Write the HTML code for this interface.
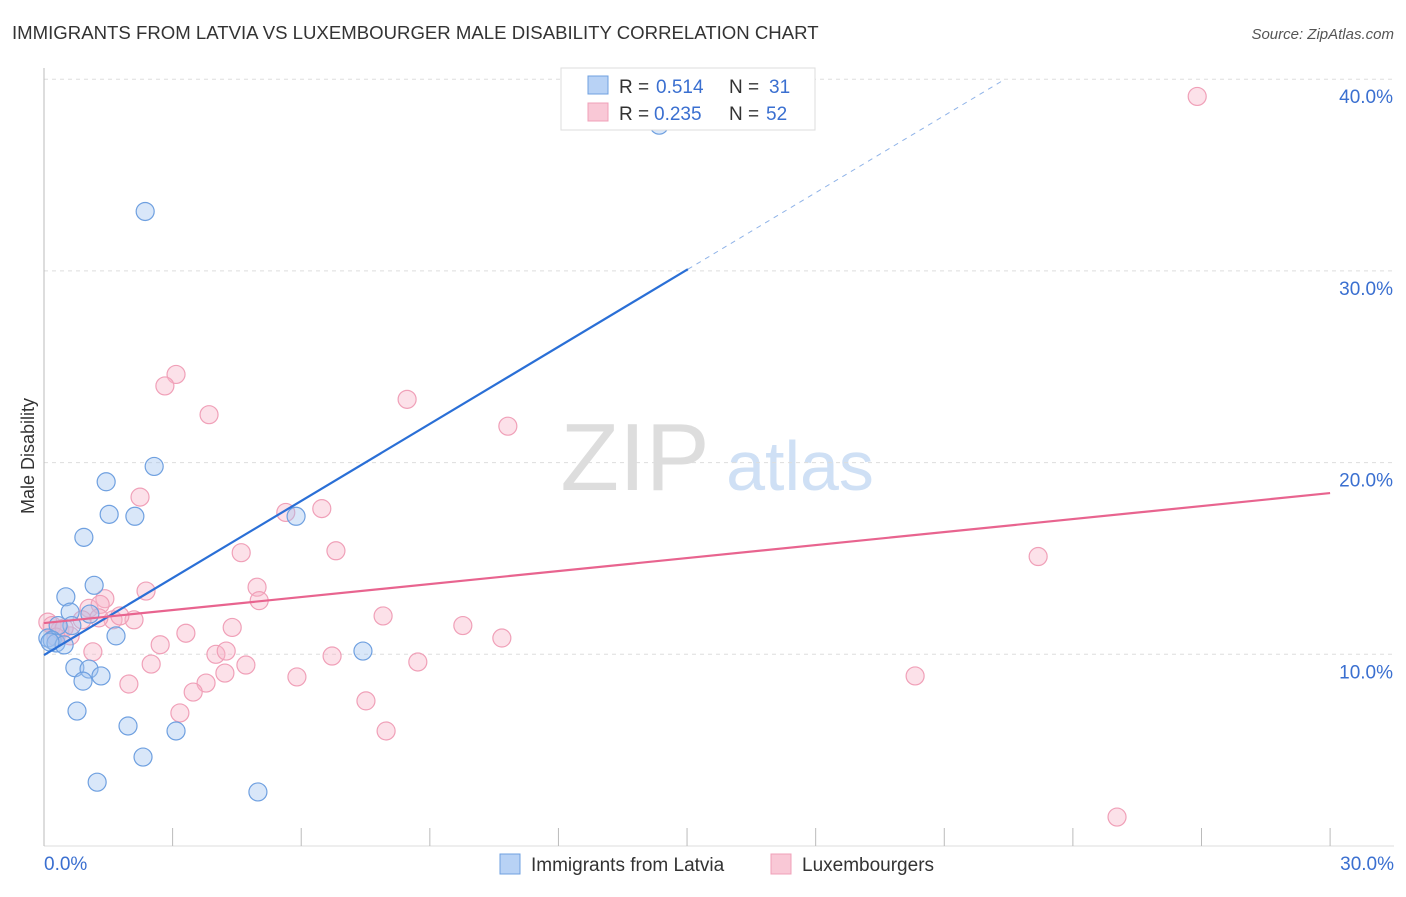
<!DOCTYPE html>
<html><head><meta charset="utf-8"><style>
body{margin:0;background:#fff;font-family:"Liberation Sans",sans-serif;}
svg text{font-family:"Liberation Sans",sans-serif;}
</style></head><body>
<svg id="c" width="1406" height="892">
<text x="12" y="39" font-size="18.6" fill="#333">IMMIGRANTS FROM LATVIA VS LUXEMBOURGER MALE DISABILITY CORRELATION CHART</text>
<text x="1394" y="39" font-size="15" fill="#555" font-style="italic" text-anchor="end">Source: ZipAtlas.com</text>
<text x="34" y="456" font-size="18" fill="#333" text-anchor="middle" transform="rotate(-90 34 456)">Male Disability</text>
<g><text x="635" y="490" font-size="96" fill="#ddd" font-family="Liberation Serif" text-anchor="middle">ZIP</text><text x="800" y="490" font-size="70" fill="#cfe0f5" text-anchor="middle">atlas</text></g>
<g id="grid"></g><g id="marks"></g>
<g>
<rect x="561" y="68" width="254" height="62" fill="#fff" stroke="#ddd"/>
<rect x="588" y="76" width="20" height="18" fill="#b8d2f5" stroke="#6fa0e0"/>
<rect x="588" y="103" width="20" height="18" fill="#f9c8d6" stroke="#f0a0b8"/>
<text x="619" y="93" font-size="19" fill="#333">R =</text><text x="656" y="93" font-size="19" fill="#3a6fd0">0.514</text>
<text x="729" y="93" font-size="19" fill="#333">N =</text><text x="769" y="93" font-size="19" fill="#3a6fd0">31</text>
<text x="619" y="120" font-size="19" fill="#333">R =</text><text x="654" y="120" font-size="19" fill="#3a6fd0">0.235</text>
<text x="729" y="120" font-size="19" fill="#333">N =</text><text x="766" y="120" font-size="19" fill="#3a6fd0">52</text>
</g>
<g>
<rect x="500" y="854" width="20" height="20" fill="#b8d2f5" stroke="#6fa0e0"/>
<text x="531" y="871" font-size="19" fill="#333">Immigrants from Latvia</text>
<rect x="771" y="854" width="20" height="20" fill="#f9c8d6" stroke="#f0a0b8"/>
<text x="802" y="871" font-size="19" fill="#333">Luxembourgers</text>
</g>
</svg>
<script>
const yTicks=[10,20,30,40];
const yTickLabels=["10.0%","20.0%","30.0%","40.0%"];
const xTickLabels=["0.0%","30.0%"];
const blueX=[2.36,14.35,2.57,1.45,1.52,2.12,0.93,5.88,1.17,0.51,0.61,1.07,0.65,0.33,1.68,0.09,0.19,0.28,0.47,7.44,0.72,1.05,1.33,0.91,0.77,1.96,3.08,2.31,1.24,4.99,0.14];
const blueY=[33.1,37.6,19.8,19.0,17.3,17.2,16.1,17.2,13.6,13.0,12.2,12.1,11.5,11.5,10.96,10.85,10.74,10.59,10.49,10.17,9.3,9.23,8.87,8.6,7.04,6.26,6.0,4.64,3.33,2.82,10.64];
const pinkX=[26.9,3.08,2.82,3.85,8.47,10.82,2.24,6.48,5.64,6.81,4.6,23.19,2.38,4.97,5.02,1.42,1.05,1.31,7.91,9.77,1.61,2.1,4.39,3.31,10.68,2.71,0.09,0.37,0.61,1.14,4.01,4.25,6.72,2.5,4.71,8.72,4.22,5.9,20.32,1.98,3.78,3.48,3.17,7.51,7.98,25.03,0.19,0.47,0.89,0.28,1.77,1.28];
const pinkY=[39.1,24.6,24.0,22.5,23.3,21.9,18.2,17.6,17.4,15.4,15.3,15.1,13.3,13.5,12.8,12.9,12.4,12.6,12.0,11.5,11.8,11.8,11.4,11.1,10.85,10.5,11.68,11.27,10.96,10.13,10.0,10.17,9.91,9.49,9.44,9.6,9.02,8.82,8.87,8.45,8.5,8.03,6.94,7.57,6.0,1.51,11.5,11.37,11.8,10.9,12.0,11.9];
const blueFit=[9.96,1.34];
const pinkFit=[11.63,0.226];
const NS="http://www.w3.org/2000/svg";
const X=v=>44+v*42.87, Y=v=>846-v*19.17;
function mk(p,t,a){const e=document.createElementNS(NS,t);for(const k in a)e.setAttribute(k,a[k]);p.appendChild(e);return e;}
const g=document.getElementById('grid'),m=document.getElementById('marks');
yTicks.forEach((t,i)=>{
 const l=mk(g,'line',{x1:44,x2:1394,y1:Y(t),y2:Y(t),stroke:'#ddd','stroke-dasharray':'4,4'});
 
 
 const tx=mk(g,'text',{x:1393,y:Y(t)+24,'font-size':19,fill:'#3a6fd0','text-anchor':'end'});tx.textContent=yTickLabels[i];
 
 
});
mk(g,'line',{x1:44,x2:44,y1:68,y2:846,stroke:'#bbb'});
mk(g,'line',{x1:44,x2:1394,y1:846,y2:846,stroke:'#ddd'});
for(let i=0;i<=10;i++){const x=X(i*3);const t=mk(g,'line',{x1:x,x2:x,y1:828,y2:846,stroke:'#bbb'});
 
 }
[[0,'start',44],[30,'end',1394]].forEach((d,i)=>{const t=mk(g,'text',{x:d[2],y:870,'font-size':19,fill:'#3a6fd0','text-anchor':d[1]});t.textContent=xTickLabels[i];
 
 });
pinkX.forEach((x,i)=>{const c=mk(m,'circle',{cx:X(x),cy:Y(pinkY[i]),r:9,fill:'rgba(248,180,200,0.4)',stroke:'#f0a0b8','stroke-width':1.2});
 
 });
blueX.forEach((x,i)=>{const c=mk(m,'circle',{cx:X(x),cy:Y(blueY[i]),r:9,fill:'rgba(160,195,240,0.4)',stroke:'#6fa0e0','stroke-width':1.2});
 
 });
const bx1=15.02,bx2=(40-blueFit[0])/blueFit[1];
const bl=mk(m,'line',{x1:X(0),y1:Y(blueFit[0]),x2:X(bx1),y2:Y(blueFit[0]+blueFit[1]*bx1),stroke:'#2a6fd6','stroke-width':2.2});


const bd=mk(m,'line',{x1:X(bx1),y1:Y(blueFit[0]+blueFit[1]*bx1),x2:X(bx2),y2:Y(40),stroke:'#8fb3e8','stroke-width':1,'stroke-dasharray':'5,5'});


const pl=mk(m,'line',{x1:X(0),y1:Y(pinkFit[0]),x2:X(30),y2:Y(pinkFit[0]+pinkFit[1]*30),stroke:'#e8648f','stroke-width':2.2});


</script>
</body></html>
